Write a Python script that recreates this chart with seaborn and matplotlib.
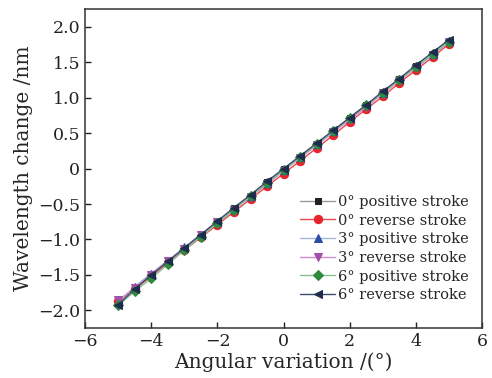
import numpy as np
import pandas as pd
import matplotlib
matplotlib.use("Agg")
import matplotlib.pyplot as plt
import seaborn as sns

# Angular variation (deg)
angle = [-5.0, -4.5, -4.0, -3.5, -3.0, -2.5, -2.0, -1.5, -1.0, -0.5, 0.0,
         0.5, 1.0, 1.5, 2.0, 2.5, 3.0, 3.5, 4.0, 4.5, 5.0]

# wavelength change (nm)
pos0 = [-1.90, -1.67, -1.48, -1.30, -1.12, -0.93, -0.75, -0.56, -0.38, -0.19, -0.01,
        0.17, 0.35, 0.53, 0.72, 0.90, 1.08, 1.26, 1.45, 1.62, 1.80]
rev0 = [-1.87, -1.70, -1.52, -1.33, -1.15, -0.97, -0.79, -0.61, -0.43, -0.25, -0.07,
        0.11, 0.29, 0.47, 0.66, 0.84, 1.02, 1.21, 1.39, 1.57, 1.76]
pos3 = [-1.88, -1.67, -1.48, -1.30, -1.11, -0.93, -0.75, -0.57, -0.38, -0.20, -0.02,
        0.16, 0.34, 0.53, 0.71, 0.89, 1.07, 1.26, 1.44, 1.62, 1.80]
rev3 = [-1.86, -1.68, -1.50, -1.31, -1.13, -0.94, -0.76, -0.58, -0.40, -0.22, -0.03,
        0.15, 0.33, 0.51, 0.69, 0.87, 1.06, 1.24, 1.42, 1.60, 1.78]
pos6 = [-1.93, -1.73, -1.55, -1.35, -1.15, -0.96, -0.77, -0.58, -0.39, -0.21, -0.02,
        0.16, 0.34, 0.53, 0.71, 0.89, 1.07, 1.25, 1.43, 1.61, 1.79]
rev6 = [-1.92, -1.70, -1.50, -1.31, -1.12, -0.93, -0.74, -0.55, -0.37, -0.18, 0.00,
        0.18, 0.36, 0.54, 0.72, 0.90, 1.09, 1.27, 1.46, 1.64, 1.82]

labels = ["0° positive stroke", "0° reverse stroke", "3° positive stroke",
          "3° reverse stroke", "6° positive stroke", "6° reverse stroke"]
series = [pos0, rev0, pos3, rev3, pos6, rev6]

markers = ["s", "o", "^", "v", "D", "<"]
mcolors = ["#222222", "#e8242c", "#2a4ea6", "#a050a8", "#2e8a3c", "#1e2c4e"]
lcolors = ["#9a9a9a", "#e84850", "#a8b8d8", "#d090d0", "#88c090", "#404c6c"]
msizes = [5, 6, 6, 6, 5, 6]

df = pd.concat([pd.DataFrame({"angle": angle, "dl": s, "series": l})
                for s, l in zip(series, labels)], ignore_index=True)

sns.set_style("ticks")
plt.rcParams["font.family"] = ["DejaVu Serif"]
plt.rcParams["mathtext.fontset"] = "dejavuserif"

fig, ax = plt.subplots(figsize=(4.92, 3.78), dpi=100)

for lab, mk, mc, lc, ms in zip(labels, markers, mcolors, lcolors, msizes):
    sub = df[df["series"] == lab]
    sns.lineplot(data=sub, x="angle", y="dl", ax=ax, color=lc, lw=1.0,
                 marker=mk, markersize=ms, markerfacecolor=mc,
                 markeredgecolor=mc, label=lab, legend=False)

ax.set_xlim(-6, 6)
ax.set_ylim(-2.25, 2.25)
ax.set_xticks([-6, -4, -2, 0, 2, 4, 6])
ax.set_yticks(np.arange(-2.0, 2.01, 0.5))
ax.set_xticklabels(["\u22126", "\u22124", "\u22122", "0", "2", "4", "6"])
ax.set_yticklabels(["\u22122.0", "\u22121.5", "\u22121.0", "\u22120.5", "0",
                    "0.5", "1.0", "1.5", "2.0"])
ax.tick_params(direction="in", length=4, width=1, labelsize=12.5, colors="#222222")
for sp in ax.spines.values():
    sp.set_visible(True)
    sp.set_linewidth(1.1)
    sp.set_color("#333333")

ax.set_xlabel("Angular variation /(°)", fontsize=14.5, labelpad=2)
ax.set_ylabel("Wavelength change /nm", fontsize=14.5, labelpad=4)

ax.legend(loc="lower right", bbox_to_anchor=(1.0, 0.04), frameon=False,
          fontsize=10.5, handlelength=2.4, handletextpad=0.2,
          labelspacing=0.32, borderaxespad=0.5)

fig.subplots_adjust(left=0.173, right=0.98, top=0.976, bottom=0.132)
fig.savefig("out.png", dpi=100)
